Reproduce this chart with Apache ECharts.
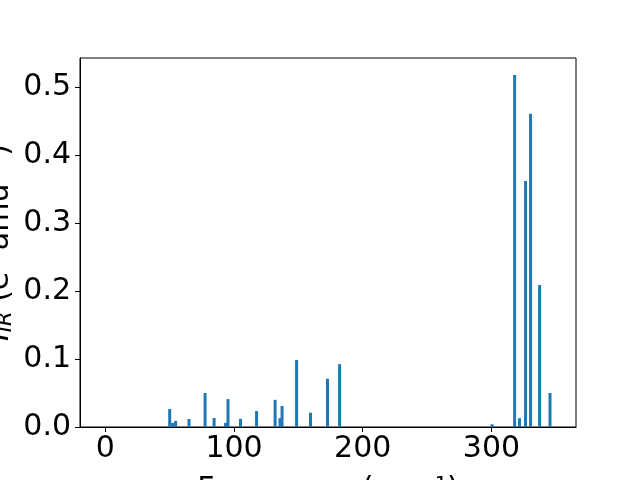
<!DOCTYPE html>
<html>
<head>
<meta charset="utf-8">
<script src="https://cdn.jsdelivr.net/npm/echarts@6/dist/echarts.min.js"></script>
<style>html,body{margin:0;padding:0;background:#fff;}#c{width:640px;height:480px;}</style>
</head>
<body>
<div id="c"></div>
<script>
var frequencies = [50, 52.3, 54.6, 65, 77.5, 84.5, 93.4, 95.3, 105, 117.5, 131.9, 135.7, 137.3, 148.6, 159.4, 172.6, 182, 300.5, 318, 321.8, 326.5, 330.4, 337.4, 345.5];
var intensities = [0.0265, 0.006, 0.009, 0.0118, 0.05, 0.0132, 0.006, 0.041, 0.012, 0.0235, 0.04, 0.013, 0.031, 0.0985, 0.021, 0.071, 0.0925, 0.004, 0.518, 0.013, 0.362, 0.461, 0.209, 0.05];
var xTicks = [0, 100, 200, 300];
var yTicks = [0.0, 0.1, 0.2, 0.3, 0.4, 0.5];

var data = frequencies.map(function (f, i) { return [f, intensities[i]]; });
var chart = echarts.init(document.getElementById('c'), null, {renderer: 'canvas'});
var font = 'DejaVu Sans';
chart.setOption({
  animation: false,
  grid: {left: 80, right: 64, top: 58, bottom: 53, containLabel: false, outerBoundsMode: 'none', show: true, borderColor: '#000', borderWidth: 1, backgroundColor: 'transparent'},
  xAxis: {
    type: 'value', min: -19.7, max: 365.7,
    name: 'Frequency (cm\u207B\u00B9)', nameLocation: 'middle', nameGap: 48, nameMoveOverlap: false,
    nameTextStyle: {fontFamily: font, fontSize: 30, color: '#000'},
    axisLine: {show: true, onZero: false, lineStyle: {color: '#000', width: 1}},
    axisTick: {show: true, length: 5, lineStyle: {color: '#000'}, customValues: xTicks},
    axisLabel: {fontFamily: font, fontSize: 30, color: '#000', margin: 7, customValues: xTicks, formatter: function (v) { return String(v); }},
    splitLine: {show: false}
  },
  yAxis: {
    type: 'value', min: 0, max: 0.543,
    name: '{a|I}{b|IR} (e\u00B2 amu\u207B\u00B9)', nameLocation: 'middle', nameGap: 64, nameRotate: 90, nameMoveOverlap: false,
    nameTextStyle: {fontFamily: font, fontSize: 30, color: '#000', rich: {a: {fontFamily: font, fontSize: 30, fontStyle: 'italic'}, b: {fontFamily: font, fontSize: 21, fontStyle: 'italic', padding: [11, 0, 0, 0]}}},
    axisLine: {show: true, onZero: false, lineStyle: {color: '#000', width: 1}},
    axisTick: {show: true, length: 5, lineStyle: {color: '#000'}, customValues: yTicks},
    axisLabel: {fontFamily: font, fontSize: 30, color: '#000', margin: 9, customValues: yTicks, formatter: function (v) { return v.toFixed(1); }},
    splitLine: {show: false}
  },
  series: [{
    type: 'bar', data: data, barWidth: 3, itemStyle: {color: '#1f77b4'}, barGap: '-100%'
  }]
});
</script>
</body>
</html>
